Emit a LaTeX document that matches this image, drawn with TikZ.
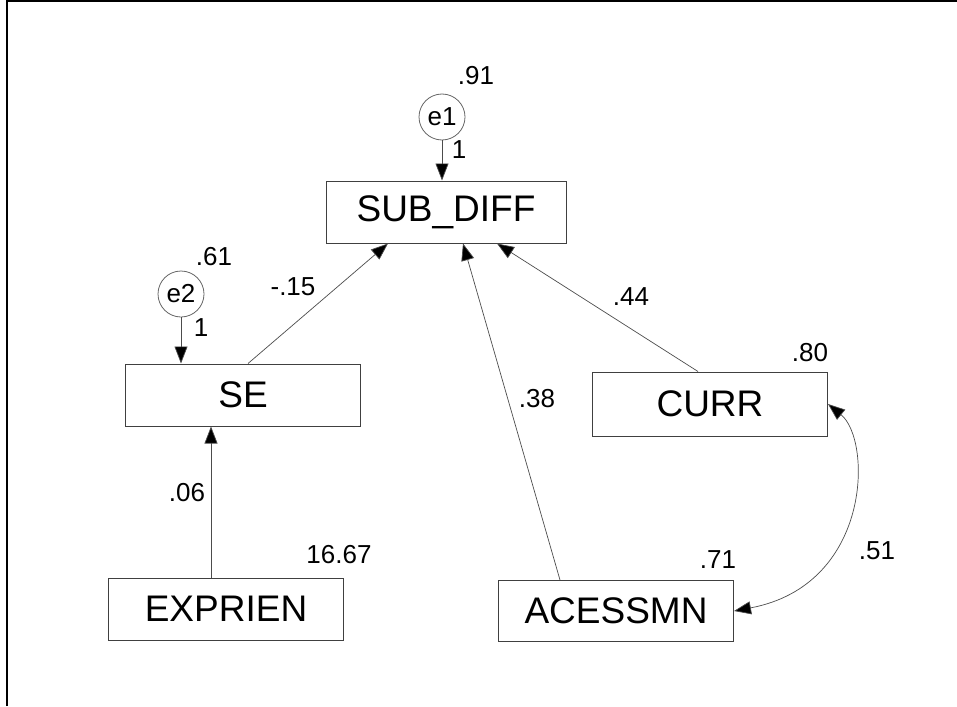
\documentclass[tikz,border=0pt]{standalone}
\usepackage{fontspec}
\setmainfont{Liberation Sans}
\usetikzlibrary{arrows.meta}
\begin{document}
\begin{tikzpicture}[x=1pt,y=-1pt,
  varbox/.style={draw=black!75,line width=1pt,fill=white,minimum width=235pt,minimum height=62pt,inner sep=0pt,font=\fontsize{37}{37}\selectfont},
  errc/.style={circle,draw=black!60,line width=0.8pt,minimum size=46pt,inner sep=0pt,font=\fontsize{26}{26}\selectfont},
  lbl/.style={inner sep=0pt,font=\fontsize{26}{26}\selectfont},
  tip/.style={-{Triangle[length=17pt,width=13pt,fill=black]}},
  path/.style={draw=black!70,line width=0.7pt,tip},
  cov/.style={draw=black!70,line width=0.7pt,{Triangle[length=17pt,width=13pt,fill=black]}-{Triangle[length=17pt,width=13pt,fill=black]}}]
\useasboundingbox (0,0) rectangle (957,706);
% frame
\draw[line width=2pt] (7,706) -- (7,1.5) -- (957,1.5);
% observed variables
\node[varbox,minimum width=240pt] (sub) at (446,212) {SUB\_DIFF};
\node[varbox] (se) at (243,395) {SE};
\node[varbox,minimum height=64pt] (curr) at (710,404) {CURR};
\node[varbox,minimum height=61pt] (acc) at (616,611) {ACESSMN};
\node[varbox] (exp) at (226,609) {EXPRIEN};
% error terms
\node[errc] (e1) at (442,117) {e1};
\node[errc] (e2) at (181,294) {e2};
% paths
\draw[path] (e1) -- (e1 |- sub.north);
\draw[path] (e2) -- (e2 |- se.north);
\draw[path] ([xshift=5pt]se.north) -- ([xshift=-58pt]sub.south);
\draw[path] ([xshift=-56pt]acc.north) -- ([xshift=17pt]sub.south);
\draw[path] ([xshift=-12pt]curr.north) -- ([xshift=51pt]sub.south);
\draw[path] (exp.north -| 211,0) -- (se.south -| 211,0);
\draw[cov] (curr.east) .. controls (872,440) and (872,585) .. (acc.east);
% estimates
\node[lbl] (v1) at (476,76) {.91};
\node[lbl] (w1) at (459,150) {1};
\node[lbl] (v2) at (214,257) {.61};
\node[lbl] (w2) at (201,328) {1};
\node[lbl] (b1) at (293,287) {-.15};
\node[lbl] (b2) at (631,297) {.44};
\node[lbl] (b3) at (537,399) {.38};
\node[lbl] (b4) at (187,493) {.06};
\node[lbl] (v3) at (810,353) {.80};
\node[lbl] (v4) at (718,560) {.71};
\node[lbl] (v5) at (339,555) {16.67};
\node[lbl] (c1) at (877,551) {.51};
\end{tikzpicture}
\end{document}
